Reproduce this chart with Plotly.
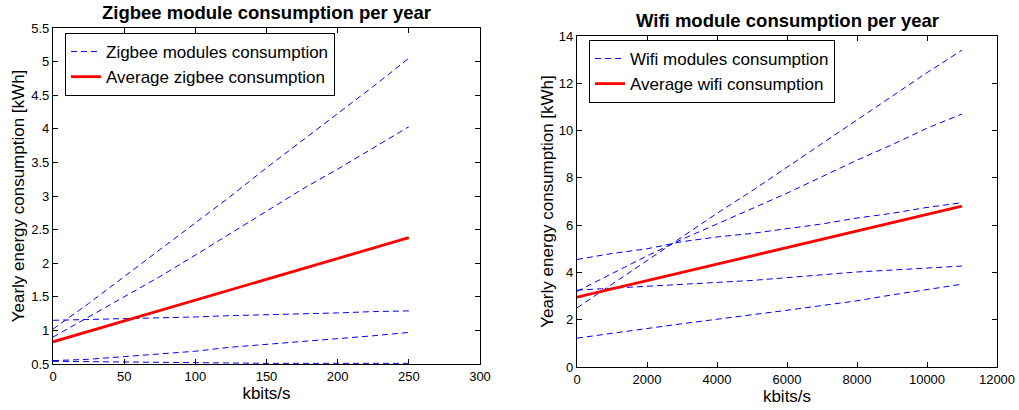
import plotly.graph_objects as go

# ---------------- data ----------------
zig_x = [0, 25, 50, 75, 100, 125, 150, 175, 200, 225, 250]
zig_mod1 = [1.02, 1.40, 1.80, 2.20, 2.60, 3.00, 3.42, 3.82, 4.22, 4.63, 5.05]
zig_mod2 = [0.90, 1.20, 1.50, 1.80, 2.12, 2.45, 2.78, 3.10, 3.40, 3.72, 4.03]
zig_mod3 = [1.15, 1.16, 1.17, 1.19, 1.20, 1.22, 1.23, 1.25, 1.26, 1.28, 1.29]
zig_mod4 = [0.55, 0.57, 0.61, 0.65, 0.69, 0.75, 0.79, 0.83, 0.87, 0.92, 0.97]
zig_mod5 = [0.54, 0.535, 0.53, 0.52, 0.51, 0.51, 0.51, 0.51, 0.51, 0.51, 0.51]
zig_avg = [0.83, 0.985, 1.14, 1.295, 1.45, 1.605, 1.76, 1.915, 2.07, 2.225, 2.38]

wifi_x = [0, 1000, 2000, 3000, 4000, 5000, 6000, 7000, 8000, 9000, 10000, 11000]
wifi_mod1 = [2.50, 3.50, 4.50, 5.50, 6.50, 7.45, 8.45, 9.45, 10.45, 11.45, 12.45, 13.40]
wifi_mod2 = [3.20, 3.95, 4.70, 5.40, 6.05, 6.70, 7.35, 8.05, 8.75, 9.40, 10.10, 10.70]
wifi_mod3 = [4.55, 4.80, 5.00, 5.30, 5.50, 5.65, 5.85, 6.05, 6.30, 6.50, 6.75, 6.95]
wifi_mod4 = [3.25, 3.33, 3.40, 3.48, 3.56, 3.66, 3.78, 3.90, 4.02, 4.10, 4.18, 4.27]
wifi_mod5 = [1.22, 1.43, 1.65, 1.83, 2.02, 2.20, 2.40, 2.60, 2.80, 3.05, 3.28, 3.50]
wifi_avg = [2.95, 3.30, 3.65, 4.00, 4.35, 4.70, 5.05, 5.40, 5.75, 6.10, 6.45, 6.80]

zig_xticks = [0, 50, 100, 150, 200, 250, 300]
zig_yticks = [0.5, 1, 1.5, 2, 2.5, 3, 3.5, 4, 4.5, 5, 5.5]
zig_ytext = ["0.5", "1", "1.5", "2", "2.5", "3", "3.5", "4", "4.5", "5", "5.5"]
wifi_xticks = [0, 2000, 4000, 6000, 8000, 10000, 12000]
wifi_xtext = ["0", "2000", "4000", "6000", "8000", "10000", "12000"]
wifi_yticks = [0, 2, 4, 6, 8, 10, 12, 14]

titles = ["Zigbee module consumption per year", "Wifi module consumption per year"]
xlabel = "kbits/s"
ylabel = "Yearly energy consumption [kWh]"

# ---------------- figure ----------------
W, H = 1019, 410
FONT = "Liberation Sans, Arial, Helvetica, sans-serif"
BLUE = "#0000ff"
RED = "#ff0000"
DASH = "6px,4px"

fig = go.Figure()

zig_mods = [zig_mod1, zig_mod2, zig_mod3, zig_mod4, zig_mod5]
for i, ys in enumerate(zig_mods):
    fig.add_trace(go.Scatter(
        x=zig_x, y=ys, mode="lines", xaxis="x", yaxis="y",
        line=dict(color=BLUE, width=1, dash=DASH),
        name="Zigbee modules consumption", legendgroup="zm",
        showlegend=(i == 0), legend="legend"))
fig.add_trace(go.Scatter(
    x=zig_x, y=zig_avg, mode="lines", xaxis="x", yaxis="y",
    line=dict(color=RED, width=2.8),
    name="Average zigbee consumption", legend="legend"))

wifi_mods = [wifi_mod1, wifi_mod2, wifi_mod3, wifi_mod4, wifi_mod5]
for i, ys in enumerate(wifi_mods):
    fig.add_trace(go.Scatter(
        x=wifi_x, y=ys, mode="lines", xaxis="x2", yaxis="y2",
        line=dict(color=BLUE, width=1, dash=DASH),
        name="Wifi modules consumption", legendgroup="wm",
        showlegend=(i == 0), legend="legend2"))
fig.add_trace(go.Scatter(
    x=wifi_x, y=wifi_avg, mode="lines", xaxis="x2", yaxis="y2",
    line=dict(color=RED, width=2.8),
    name="Average wifi consumption", legend="legend2"))

L = dict(x0=53, x1=480, y0=28, y1=364)
R = dict(x0=577, x1=997, y0=36, y1=367)

def dom_x(b):
    return [b["x0"] / W, b["x1"] / W]

def dom_y(b):
    return [1 - b["y1"] / H, 1 - b["y0"] / H]

axis_common = dict(
    showline=True, linecolor="black", linewidth=1.3, mirror="ticks",
    ticks="inside", ticklen=5, tickcolor="black", tickwidth=1,
    showgrid=False, zeroline=False, automargin=False,
    tickfont=dict(family=FONT, size=13, color="black"),
)
title_font = dict(family=FONT, size=17, color="black")

fig.update_layout(
    width=W, height=H, autosize=False,
    margin=dict(l=0, r=0, t=0, b=0, pad=0, autoexpand=False),
    paper_bgcolor="white", plot_bgcolor="white",
    font=dict(family=FONT, color="black"),
    xaxis=dict(domain=dom_x(L), anchor="y", range=[0, 300],
               tickvals=zig_xticks, title=dict(text=xlabel, font=title_font, standoff=3),
               **axis_common),
    yaxis=dict(domain=dom_y(L), anchor="x", range=[0.5, 5.5],
               tickvals=zig_yticks, ticktext=zig_ytext,
               title=dict(text=ylabel, font=title_font, standoff=2),
               **axis_common),
    xaxis2=dict(domain=dom_x(R), anchor="y2", range=[0, 12000],
                tickvals=wifi_xticks, ticktext=wifi_xtext,
                title=dict(text=xlabel, font=title_font, standoff=3),
                **axis_common),
    yaxis2=dict(domain=dom_y(R), anchor="x2", range=[0, 14],
                tickvals=wifi_yticks,
                title=dict(text=ylabel, font=title_font, standoff=0),
                **axis_common),
    legend=dict(x=65 / W, y=1 - 33 / H, xanchor="left", yanchor="top",
                bordercolor="black", borderwidth=1, bgcolor="white",
                font=dict(family=FONT, size=17, color="black"),
                tracegroupgap=0, itemwidth=30),
    legend2=dict(x=589 / W, y=1 - 40 / H, xanchor="left", yanchor="top",
                 bordercolor="black", borderwidth=1, bgcolor="white",
                 font=dict(family=FONT, size=17, color="black"),
                 tracegroupgap=0, itemwidth=30),
    showlegend=True,
)

fig.add_annotation(text="<b>" + titles[0] + "</b>", xref="paper", yref="paper",
                   x=(L["x0"] + L["x1"]) / 2 / W, y=1 - 12.5 / H,
                   xanchor="center", yanchor="middle", showarrow=False,
                   font=dict(family=FONT, size=18.5, color="black"))
fig.add_annotation(text="<b>" + titles[1] + "</b>", xref="paper", yref="paper",
                   x=(R["x0"] + R["x1"]) / 2 / W, y=1 - 20.5 / H,
                   xanchor="center", yanchor="middle", showarrow=False,
                   font=dict(family=FONT, size=18.5, color="black"))

fig.write_html("out.html")
